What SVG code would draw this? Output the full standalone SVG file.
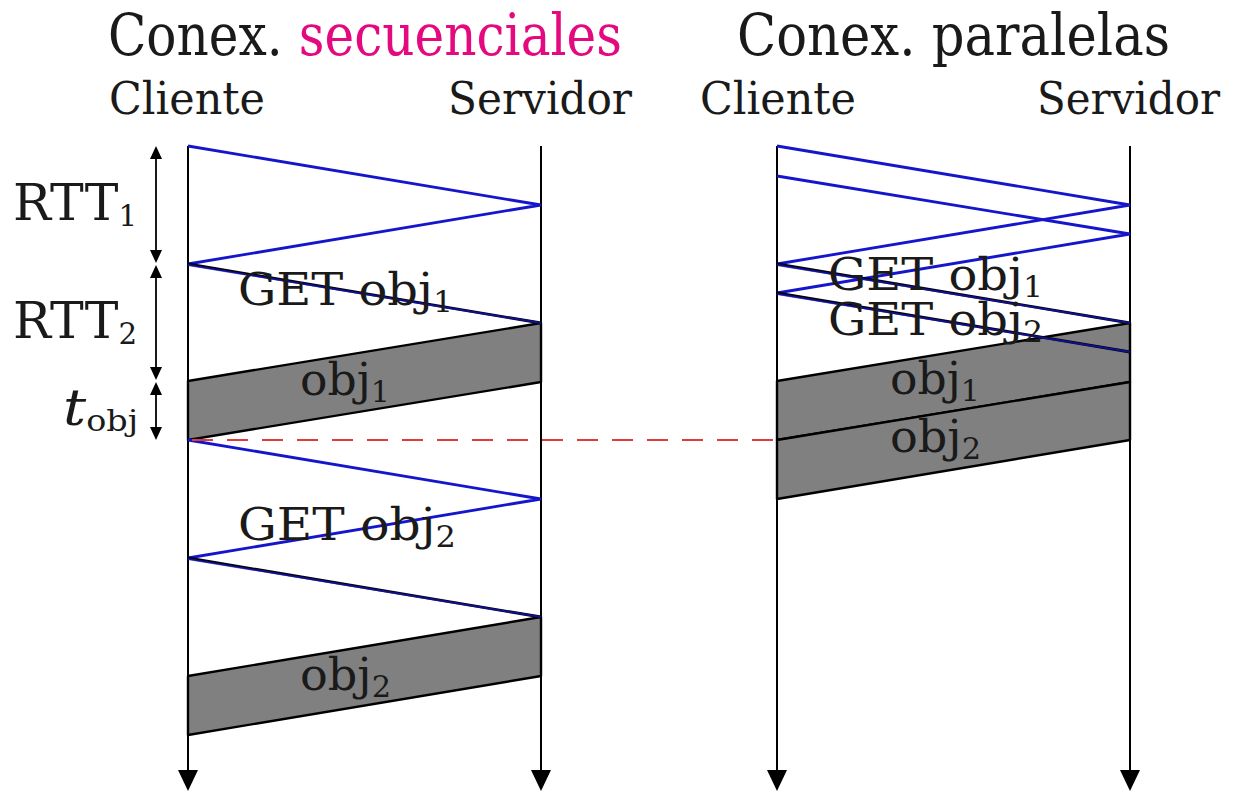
<svg xmlns="http://www.w3.org/2000/svg" width="1235" height="792" viewBox="0 0 1235 792">
<style>
text{font-family:"DejaVu Serif","Liberation Serif",serif;fill:#1a1a1a}
.title{font-size:57px}
.head{font-size:44px}
.lbl{font-size:44px}
.big{font-size:50px}
.sub{font-size:29px}
.life{stroke:#000;stroke-width:2;fill:none}
.msg{stroke:#1515cc;stroke-width:2.8;fill:none;stroke-linejoin:miter}
.req{stroke:#000;stroke-width:2.8;fill:none}
.reqb{stroke:#1515cc;stroke-width:2;fill:none;stroke-opacity:0.7}
.obj{fill:#808080;stroke:#000;stroke-width:2.4;stroke-linejoin:round}
.dim{stroke:#000;stroke-width:1.8}
.red{stroke:#e03a3a;stroke-width:2;stroke-dasharray:21 14;fill:none}
</style>
<defs>
<path id="bigdown" d="M-10,-21 L10,-21 L0,0 Z" fill="#000"/>
<path id="smdown" d="M-6,-13 L6,-13 L0,0 Z" fill="#000"/>
<path id="smup" d="M-6,13 L6,13 L0,0 Z" fill="#000"/>
</defs>
<rect width="1235" height="792" fill="#fff"/>

<g id="titles">
<text class="title" x="108" y="55" textLength="514" lengthAdjust="spacingAndGlyphs">Conex. <tspan fill="#e4097f">secuenciales</tspan></text>
<text class="title" x="737" y="55" textLength="433" lengthAdjust="spacingAndGlyphs">Conex. paralelas</text>
</g>

<g id="node-cliente-seq">
<text class="head" x="109" y="114" textLength="156" lengthAdjust="spacingAndGlyphs">Cliente</text>
<line class="life" x1="188" y1="146" x2="188" y2="775"/>
<use href="#bigdown" x="188" y="791"/>
</g>
<g id="node-servidor-seq">
<text class="head" x="448" y="114" textLength="184" lengthAdjust="spacingAndGlyphs">Servidor</text>
<line class="life" x1="541" y1="146" x2="541" y2="775"/>
<use href="#bigdown" x="541" y="791"/>
</g>
<g id="node-cliente-par">
<text class="head" x="700" y="114" textLength="156" lengthAdjust="spacingAndGlyphs">Cliente</text>
<line class="life" x1="777" y1="146" x2="777" y2="775"/>
<use href="#bigdown" x="777" y="791"/>
</g>
<g id="node-servidor-par">
<text class="head" x="1037" y="114" textLength="183" lengthAdjust="spacingAndGlyphs">Servidor</text>
<line class="life" x1="1130" y1="146" x2="1130" y2="775"/>
<use href="#bigdown" x="1130" y="791"/>
</g>

<g id="objects">
<polygon class="obj" points="541,323 541,382 188,440 188,381"/>
<polygon class="obj" points="541,617 541,676 188,735 188,676"/>
<polygon class="obj" points="1130,323 1130,382 777,440 777,381"/>
<polygon class="obj" points="1130,382 1130,440 777,499 777,440"/>
</g>

<g id="connectors">
<polyline class="msg" points="188,146 541,205 188,264"/>
<line class="req" x1="188" y1="264" x2="541" y2="323"/>
<line class="reqb" x1="188" y1="265" x2="541" y2="323"/>
<polyline class="msg" points="188,440 541,499 188,558"/>
<line class="req" x1="188" y1="558" x2="541" y2="617"/>
<line class="reqb" x1="188" y1="559" x2="541" y2="617"/>
<polyline class="msg" points="777,146 1130,205 777,264"/>
<polyline class="msg" points="777,176 1130,234 777,293"/>
<line class="req" x1="777" y1="264" x2="1130" y2="323"/>
<line class="reqb" x1="777" y1="265" x2="1130" y2="323"/>
<line class="req" x1="777" y1="293" x2="1130" y2="352"/>
<line class="reqb" x1="777" y1="294" x2="1130" y2="352"/>
<line class="red" x1="192" y1="440" x2="777" y2="440"/>
</g>

<g id="dimensions">
<line class="dim" x1="156" y1="150" x2="156" y2="260"/>
<use href="#smup" x="156" y="146"/>
<use href="#smdown" x="156" y="263"/>
<line class="dim" x1="156" y1="268" x2="156" y2="377"/>
<use href="#smup" x="156" y="265"/>
<use href="#smdown" x="156" y="380"/>
<line class="dim" x1="156" y1="385" x2="156" y2="436"/>
<use href="#smup" x="156" y="382"/>
<use href="#smdown" x="156" y="440"/>
</g>

<g id="labels">
<text class="big" x="13" y="220" textLength="124" lengthAdjust="spacingAndGlyphs">RTT<tspan class="sub" dy="6">1</tspan></text>
<text class="big" x="13" y="338" textLength="124" lengthAdjust="spacingAndGlyphs">RTT<tspan class="sub" dy="6">2</tspan></text>
<text class="big" x="63" y="425" textLength="75" lengthAdjust="spacingAndGlyphs"><tspan font-style="italic">t</tspan><tspan class="sub" dy="6">obj</tspan></text>
<text class="lbl" x="238" y="305" textLength="215" lengthAdjust="spacingAndGlyphs">GET obj<tspan class="sub" dy="7">1</tspan></text>
<text class="lbl" x="300" y="395" textLength="90" lengthAdjust="spacingAndGlyphs">obj<tspan class="sub" dy="7">1</tspan></text>
<text class="lbl" x="238" y="540" textLength="218" lengthAdjust="spacingAndGlyphs">GET obj<tspan class="sub" dy="7">2</tspan></text>
<text class="lbl" x="300" y="690" textLength="91" lengthAdjust="spacingAndGlyphs">obj<tspan class="sub" dy="7">2</tspan></text>
<text class="lbl" x="828" y="290" textLength="215" lengthAdjust="spacingAndGlyphs">GET obj<tspan class="sub" dy="7">1</tspan></text>
<text class="lbl" x="828" y="335" textLength="215" lengthAdjust="spacingAndGlyphs">GET obj<tspan class="sub" dy="7">2</tspan></text>
<text class="lbl" x="890" y="394" textLength="90" lengthAdjust="spacingAndGlyphs">obj<tspan class="sub" dy="7">1</tspan></text>
<text class="lbl" x="890" y="452" textLength="91" lengthAdjust="spacingAndGlyphs">obj<tspan class="sub" dy="7">2</tspan></text>
</g>
</svg>
